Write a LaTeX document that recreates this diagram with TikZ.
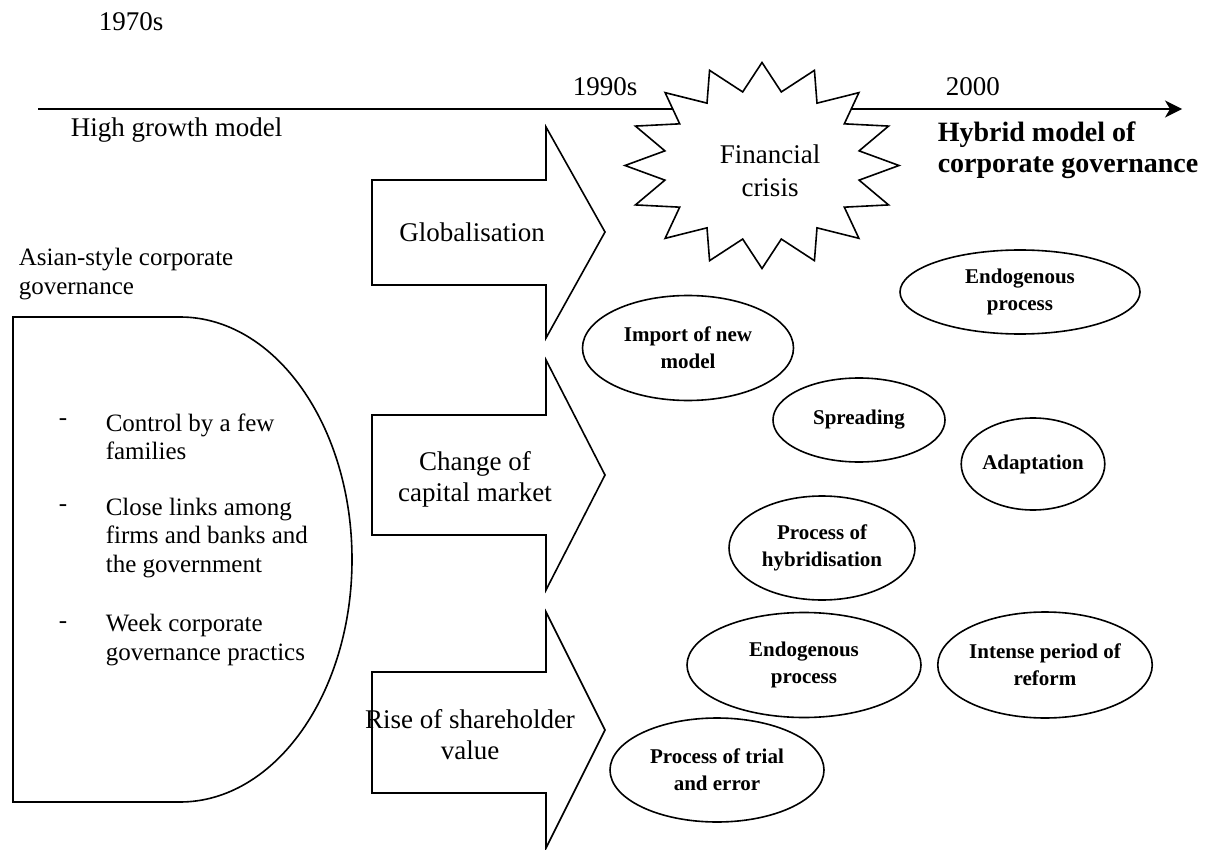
\documentclass[tikz,border=0pt]{standalone}
\usepackage{fontspec}
\setmainfont{Liberation Serif}
\usetikzlibrary{shapes.geometric,arrows.meta}

\begin{document}
\begin{tikzpicture}[x=1pt, y=-1pt, line width=1.6pt, line join=miter,
	main text/.style={font=\fontsize{27}{31}\selectfont, align=center, inner sep=0pt},
	side text/.style={font=\fontsize{25}{28.5}\selectfont, align=left, anchor=west, inner sep=0pt},
	stage node/.style={ellipse, draw, fill=white, inner sep=0pt, align=center, font=\fontsize{21}{27}\selectfont\bfseries},
	push arrow/.style={draw, fill=white}]
	\useasboundingbox (0,0) rectangle (1210,850);
	\coordinate (past) at (38,109);
	\coordinate (future) at (1182,109);
	\draw[-{Stealth[length=17pt, width=17pt, inset=5pt]}] (past) -- (future);
	\draw[fill=white] plot[samples at={0,...,31}, variable=\k] ({762+(118+19*cos(180*\k))*cos(90+11.25*\k)}, {165.5+(89+14*cos(180*\k))*sin(90+11.25*\k)}) -- cycle;
	\node[main text] (crisis) at (770,171) {Financial\\[2pt]crisis};
	\node[main text, anchor=west] (seventies) at (98,22) {1970s};
	\node[main text, anchor=west] (nineties) at (572,87) {1990s};
	\node[main text, anchor=west] (millennium) at (945,87) {2000};
	\node[main text, anchor=west] (growth) at (70,130) {High growth model};
	\node[main text, anchor=west, align=left, font=\fontsize{28}{31}\selectfont\bfseries] (hybrid) at (937,150) {Hybrid model of\\corporate governance};
	\node[side text] (asian) at (18,274) {Asian-style corporate\\governance};
	\draw (13,317) -- (180,317) arc[start angle=-90, end angle=90, x radius=172, y radius=242.5] -- (13,802) -- cycle;
	\node[side text] (dash one) at (58,422) {-};
	\node[side text] (families) at (105,437) {Control by a few\\families};
	\node[side text] (dash two) at (58,508) {-};
	\node[side text] (links) at (105,538) {Close links among\\firms and banks and\\the government};
	\node[side text] (dash three) at (58,625) {-};
	\node[side text] (practice) at (105,640) {Week corporate\\governance practics};
	\draw[push arrow] (372,180) -- (546,180) -- (546,127) -- (605,232) -- (546,338) -- (546,285) -- (372,285) -- cycle;
	\draw[push arrow] (372,415) -- (546,415) -- (546,360) -- (605,475) -- (546,590) -- (546,535) -- (372,535) -- cycle;
	\draw[push arrow] (372,672) -- (546,672) -- (546,612) -- (605,730) -- (546,848) -- (546,793) -- (372,793) -- cycle;
	\node[main text] (globalisation) at (472,232) {Globalisation};
	\node[main text] (capital) at (475,479) {Change of\\capital market};
	\node[main text] (shareholder) at (470,735) {Rise of shareholder\\value};
	\node[stage node, minimum width=211pt, minimum height=105pt] (import) at (688,348) {Import of new\\model};
	\node[stage node, minimum width=240pt, minimum height=84pt] (endogenous top) at (1020,292) {Endogenous\\process};
	\node[stage node, minimum width=172pt, minimum height=84pt] (spreading) at (859,420) {Spreading};
	\node[stage node, minimum width=140pt, minimum height=92pt] (adaptation) at (1033,464) {Adaptation};
	\node[stage node, minimum width=186pt, minimum height=104pt] (hybridisation) at (822,548) {Process of\\hybridisation};
	\node[stage node, minimum width=234pt, minimum height=105pt] (endogenous low) at (804,665) {Endogenous\\process};
	\node[stage node, minimum width=214pt, minimum height=106pt] (reform) at (1045,665) {Intense period of\\reform};
	\node[stage node, minimum width=214pt, minimum height=104pt] (trial) at (717,770) {Process of trial\\and error};
\end{tikzpicture}
\end{document}
